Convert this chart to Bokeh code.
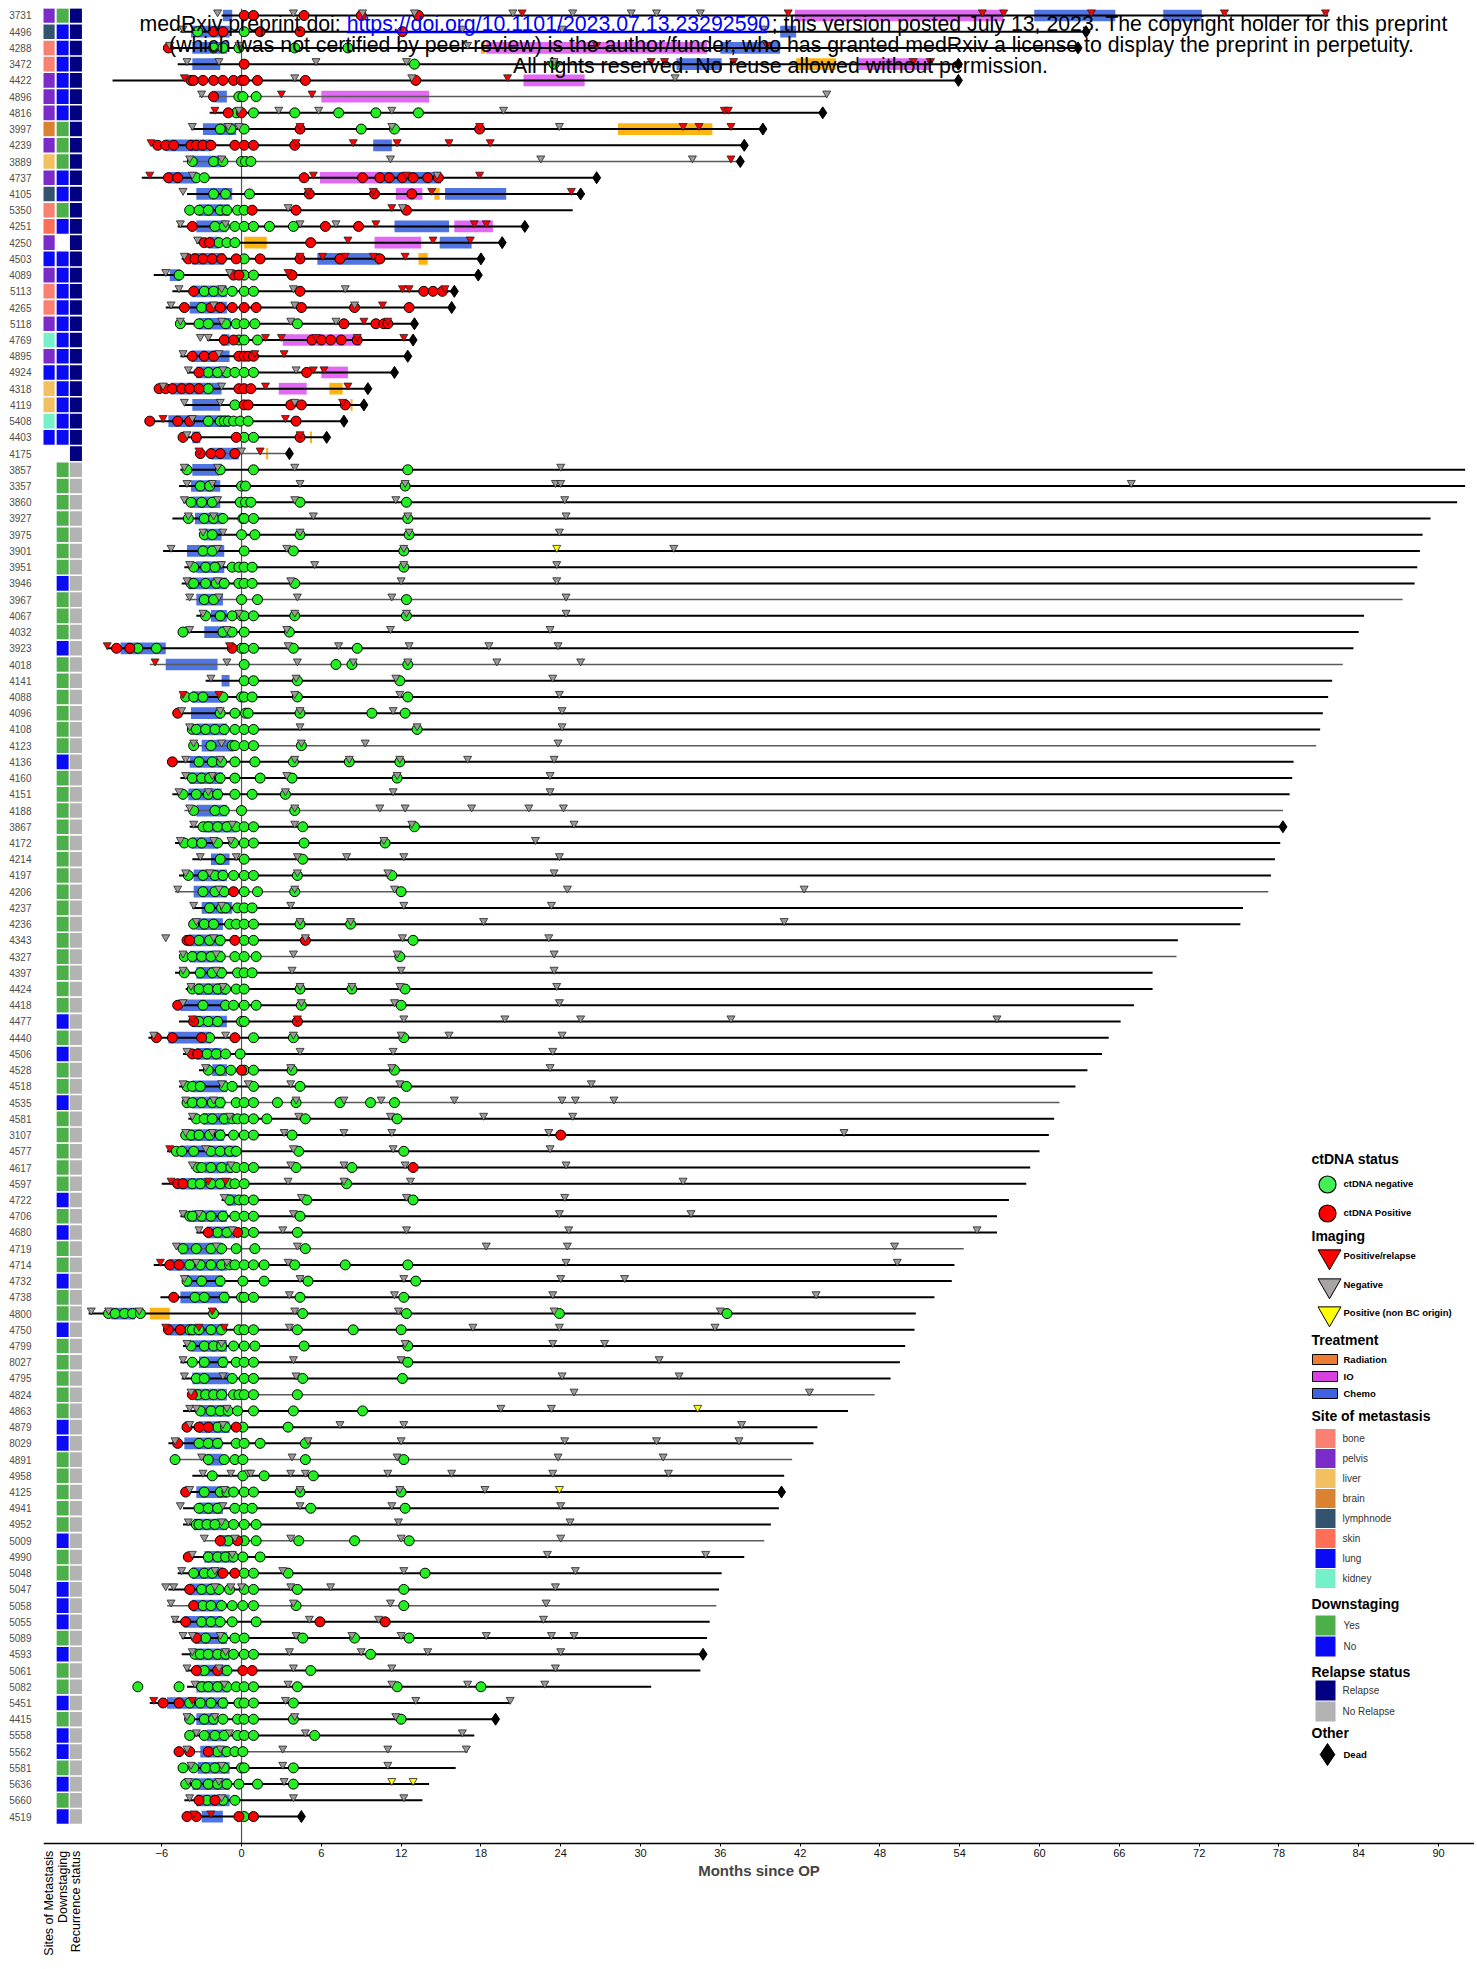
from math import pi
from bokeh.plotting import figure
from bokeh.models import Range1d, FixedTicker
from bokeh.embed import file_html
from bokeh.resources import INLINE
from bokeh.core.properties import value

# ---------------------------------------------------------------- data
PATIENTS = ["3731", "4496", "4288", "3472", "4422", "4896", "4816", "3997", "4239", "3889",
            "4737", "4105", "5350", "4251", "4250", "4503", "4089", "5113", "4265", "5118",
            "4769", "4895", "4924", "4318", "4119", "5408", "4403", "4175",
            "3857", "3357", "3860", "3927", "3975", "3901", "3951", "3946", "3967", "4067",
            "4032", "3923", "4018", "4141", "4088", "4096", "4108", "4123", "4136", "4160",
            "4151", "4188", "3867", "4172", "4214", "4197", "4206", "4237", "4236", "4343",
            "4327", "4397", "4424", "4418", "4477", "4440", "4506", "4528", "4518", "4535",
            "4581", "3107", "4577", "4617", "4597", "4722", "4706", "4680", "4719", "4714",
            "4732", "4738", "4800", "4750", "4799", "8027", "4795", "4824", "4863", "4879",
            "8029", "4891", "4958", "4125", "4941", "4952", "5009", "4990", "5048", "5047",
            "5058", "5055", "5089", "4593", "5061", "5082", "5451", "4415", "5558", "5562",
            "5581", "5636", "5660", "4519"]

SITE = ["pelvis", "lymphnode", "bone", "bone", "pelvis", "pelvis", "pelvis", "brain", "pelvis", "liver",
        "pelvis", "lymphnode", "bone", "skin", "pelvis", "lung", "pelvis", "bone", "bone", "pelvis",
        "kidney", "pelvis", "lung", "liver", "liver", "kidney", "lung", ""] + [""] * 84

DOWNSTAGING = ["Yes", "No", "No", "No", "No", "No", "No", "Yes", "Yes", "Yes",
               "No", "No", "Yes", "No", "", "No", "No", "No", "No", "No",
               "No", "No", "No", "No", "No", "No", "No", "",
               "Yes", "Yes", "Yes", "Yes", "Yes", "Yes", "Yes", "No", "Yes", "Yes",
               "Yes", "No", "Yes", "Yes", "Yes", "Yes", "Yes", "Yes", "No", "Yes",
               "Yes", "Yes", "Yes", "Yes", "Yes", "Yes", "Yes", "Yes", "Yes", "Yes",
               "Yes", "Yes", "Yes", "Yes", "No", "Yes", "No", "Yes", "Yes", "No",
               "Yes", "Yes", "Yes", "Yes", "Yes", "No", "Yes", "No", "Yes", "Yes",
               "No", "Yes", "Yes", "No", "Yes", "Yes", "Yes", "Yes", "Yes", "No",
               "No", "Yes", "Yes", "Yes", "Yes", "Yes", "No", "Yes", "Yes", "No",
               "No", "No", "Yes", "No", "Yes", "Yes", "No", "Yes", "No", "No",
               "Yes", "No", "Yes", "No"]

RELAPSE = ["Relapse"] * 28 + ["No Relapse"] * 84

START = [-1.5, -4.6, -5.5, -4.8, -9.7, -3.2, -2.4, -3.8, -6.7, -4.4,
         -7.5, -4.1, -4.1, -4.8, -3.4, -4.5, -6.6, -5.2, -5.7, -4.7,
         -2.6, -4.6, -4.1, -6.3, -4.3, -6.9, -4.4, -3.2,
         -4.6, -4.7, -4.4, -5.2, -3.1, -5.9, -4.3, -4.5, -4.2, -3.4,
         -4.4, -10.1, -6.9, -2.7, -4.4, -4.8, -4.1, -3.9, -5.2, -4.6,
         -5.2, -4.3, -3.9, -5.0, -3.7, -4.7, -5.0, -3.7, -3.8, -4.4,
         -4.6, -5.0, -4.2, -4.9, -4.7, -7.0, -4.4, -3.2, -4.7, -4.4,
         -4.0, -4.4, -5.6, -3.8, -6.0, -1.5, -4.6, -3.4, -4.9, -6.6,
         -4.4, -6.1, -11.5, -5.8, -4.4, -4.6, -4.5, -4.0, -4.4, -4.4,
         -5.5, -5.0, -3.7, -4.4, -4.4, -4.4, -2.8, -4.0, -4.8, -5.5,
         -5.6, -5.2, -4.5, -4.5, -4.2, -4.1, -6.9, -4.3, -4.1, -4.9,
         -4.6, -4.4, -4.3, -4.1]

END = [81.7, 63.5, 62.9, 53.9, 53.9, 44.0, 43.7, 39.2, 37.8, 37.5,
       26.7, 25.5, 24.9, 21.3, 19.6, 18.0, 17.8, 16.0, 15.8, 13.0,
       12.9, 12.5, 11.5, 9.5, 9.2, 7.7, 6.4, 3.6,
       92.0, 92.0, 91.4, 89.4, 88.8, 88.6, 88.4, 88.2, 87.3, 84.4,
       84.0, 83.6, 82.8, 82.0, 81.7, 81.3, 81.1, 80.8, 79.1, 79.0,
       78.8, 78.3, 78.3, 78.1, 77.7, 77.4, 77.2, 75.3, 75.1, 70.4,
       70.3, 68.5, 68.5, 67.1, 66.1, 65.2, 64.7, 63.6, 62.7, 61.5,
       61.1, 60.7, 60.0, 59.3, 59.0, 57.7, 56.8, 56.8, 54.3, 53.6,
       53.4, 52.1, 50.7, 50.6, 49.9, 49.5, 48.8, 47.6, 45.6, 43.3,
       43.0, 41.4, 40.8, 40.6, 40.4, 39.8, 39.3, 37.8, 36.1, 35.9,
       35.7, 35.2, 35.0, 34.7, 34.5, 30.8, 20.2, 19.1, 17.5, 17.0,
       16.1, 14.1, 13.6, 4.5]

DEAD = ["4496", "4288", "3472", "4422", "4816", "3997", "4239", "3889", "4737",
        "4105", "4251", "4250", "4503", "4089", "5113", "4265", "5118", "4769", "4895",
        "4924", "4318", "4119", "5408", "4403", "4175", "3867", "4125", "4593", "4415", "4519"]

GREY_LINE = ["4896", "3889", "4175", "3967", "4018", "4123", "4188", "4206", "4327", "4535",
             "4719", "4824", "4891", "5009", "5058", "5562"]

CHEMO = {
    "3731": [(-1.4, -0.7), (59.6, 65.7), (69.3, 72.2)], "4496": [(-3.8, -0.9), (40.5, 41.7)],
    "4288": [(-3.7, -1.1), (36.0, 40.5)], "3472": [(-3.7, -1.6), (32.7, 36.1)],
    "4896": [(-2.1, -1.1)], "3997": [(-2.9, -0.4)], "4239": [(-5.7, -2.3), (9.9, 11.3)],
    "3889": [(-3.7, -1.5)], "4737": [(-5.5, -3.4), (10.4, 15.0)], "4105": [(-3.4, -0.7), (15.3, 19.9)],
    "5350": [(-3.2, -0.9)], "4251": [(-3.4, -1.1), (11.5, 15.6)], "4250": [(-2.5, -1.7), (14.9, 17.3)],
    "4503": [(-3.7, -1.3), (5.7, 10.4)], "4089": [(-5.4, -4.6)], "5113": [(-3.7, -1.1)],
    "4265": [(-3.9, -1.1)], "5118": [(-3.2, -0.8)], "4769": [(-1.5, -0.9)], "4895": [(-3.7, -0.9)],
    "4924": [(-3.4, -1.1)], "4318": [(-5.3, -1.5)], "4119": [(-3.7, -1.6)], "5408": [(-5.5, -0.9)],
    "4403": [(-3.7, -3.1)], "4175": [(-2.3, -0.2)],
    "3857": [(-3.7, -1.7)], "3357": [(-3.8, -1.6)], "3860": [(-3.7, -1.6)], "3927": [(-3.5, -1.4)],
    "3975": [(-2.8, -1.5)], "3901": [(-4.1, -1.3)], "3951": [(-3.4, -1.3)], "3946": [(-4.0, -1.1)],
    "3967": [(-3.4, -1.4)], "4067": [(-2.3, -1.1)], "4032": [(-2.8, -0.8)], "3923": [(-9.1, -5.7)],
    "4018": [(-5.7, -1.8)], "4141": [(-1.5, -0.9)], "4088": [(-3.7, -1.4)], "4096": [(-3.8, -1.5)],
    "4108": [(-3.4, -1.1)], "4123": [(-3.0, -0.6)], "4136": [(-3.9, -1.3)], "4160": [(-3.9, -1.4)],
    "4151": [(-4.0, -1.5)], "4188": [(-3.4, -1.1)], "3867": [(-2.8, -0.4)], "4172": [(-3.7, -1.8)],
    "4214": [(-2.3, -0.9)], "4197": [(-3.6, -1.1)], "4206": [(-3.6, -1.1)], "4237": [(-3.0, -0.7)],
    "4236": [(-3.4, -1.4)], "4343": [(-4.0, -1.4)], "4327": [(-3.9, -1.4)], "4397": [(-3.4, -1.3)],
    "4424": [(-3.4, -1.1)], "4418": [(-4.6, -1.1)], "4477": [(-3.7, -1.1)], "4440": [(-5.5, -2.3)],
    "4506": [(-3.4, -1.5)], "4528": [(-2.2, -1.1)], "4518": [(-3.7, -1.1)], "4535": [(-3.7, -1.3)],
    "4581": [(-2.9, -0.9)], "3107": [(-4.0, -1.3)], "4577": [(-4.6, -0.4)], "4617": [(-2.8, -0.7)],
    "4597": [(-4.6, -1.1)], "4722": [(-1.1, -0.4)], "4706": [(-3.7, -1.1)], "4680": [(-2.6, -0.5)],
    "4719": [(-4.6, -1.4)], "4714": [(-5.4, -1.1)], "4732": [(-4.3, -1.4)], "4738": [(-4.6, -1.0)],
    "4800": [(-9.8, -8.0)], "4750": [(-5.4, -1.4)], "4799": [(-3.7, -1.1)], "8027": [(-3.2, -1.1)],
    "4795": [(-3.7, -0.9)], "4824": [(-3.5, -1.1)], "4863": [(-3.1, -0.9)], "4879": [(-3.2, -0.9)],
    "8029": [(-4.3, -1.5)], "4891": [(-2.6, -1.4)], "4125": [(-3.4, -1.1)], "4941": [(-3.2, -1.4)],
    "4952": [(-3.6, -1.1)], "5009": [(-1.7, -0.8)], "4990": [(-2.8, -0.5)], "5048": [(-3.7, -1.4)],
    "5047": [(-3.9, -1.6)], "5058": [(-3.7, -1.4)], "5055": [(-4.3, -1.5)], "5089": [(-3.5, -1.1)],
    "4593": [(-3.4, -0.9)], "5061": [(-3.4, -0.9)], "5082": [(-3.4, -0.9)], "5451": [(-5.6, -1.1)],
    "4415": [(-3.4, -1.8)], "5558": [(-2.6, -1.1)], "5562": [(-3.1, -1.1)], "5581": [(-3.3, -0.9)],
    "5636": [(-3.7, -0.9)], "5660": [(-3.4, -0.9)], "4519": [(-3.0, -1.4)],
}

IO = {
    "3731": [(41.6, 57.3)], "4288": [(18.4, 35.0)], "3472": [(46.4, 51.8)], "4422": [(21.2, 25.8)],
    "4896": [(6.0, 14.1)], "4737": [(5.9, 10.4)], "4105": [(11.6, 13.6)], "4251": [(16.0, 18.9)],
    "4250": [(10.0, 13.5)], "4769": [(3.1, 9.0)], "4924": [(6.0, 8.0)], "4318": [(2.8, 4.9)],
}

RADIATION = {
    "4288": [(18.0, 18.3)], "3472": [(41.7, 44.7)], "3997": [(28.3, 35.4)], "4105": [(14.5, 14.9)],
    "4250": [(0.2, 1.9)], "4503": [(13.3, 14.0)], "4318": [(6.6, 7.6)], "4119": [(8.2, 8.35)],
    "4403": [(5.15, 5.3)], "4175": [(1.85, 2.0)], "4800": [(-6.9, -5.4)],
}

CTDNA_POS = {
    "3731": [0.2, 0.9, 4.7, 9.0, 13.3], "4496": [-2.1, -1.4, 1.4, 4.4, 12.1], "4288": [-5.5],
    "3472": [0.2], "4422": [-3.8, -3.6, -2.9, -2.1, -1.4, -0.6, 0.0, 0.2, 1.2, 4.8, 13.1],
    "4896": [-2.1], "4816": [-1.0, 0.0], "3997": [4.4, 17.9],
    "4239": [-6.3, -5.7, -5.1, -3.8, -3.4, -2.9, -2.3, -0.5, 0.2, 0.9, 4.0],
    "4737": [-5.5, -4.8, 4.7, 9.1, 10.4, 11.1, 12.1, 12.9, 14.0, 14.8], "4105": [5.1, 10.0, 12.8],
    "5350": [0.8, 4.1, 12.4], "4251": [-3.7, 6.3, 8.8], "4250": [-2.8, -2.4, 5.2],
    "4503": [-4.0, -3.5, -2.9, -2.2, -1.5, -0.4, 1.4, 4.4, 7.4, 10.4], "4089": [-0.6, -0.2, 3.8],
    "5113": [-3.6, 4.4, 13.7, 14.4, 15.1], "4265": [-4.3, -2.3, -1.6, -0.7, 0.2, 1.1, 4.5, 8.5, 12.6],
    "5118": [7.7, 10.1, 10.7, 11.0], "4769": [-1.3, -0.6, 5.3, 6.0, 6.7, 7.5, 8.7],
    "4895": [-3.7, -2.8, -2.1, -0.2, 0.2, 0.5, 0.9], "4924": [-3.2, 4.9],
    "4318": [-6.2, -5.7, -5.2, -4.5, -3.9, -3.2, -0.2, 0.2, 0.7], "4119": [0.2, 0.5, 3.7, 4.5, 7.8],
    "5408": [-6.9, -4.8, -3.9, 4.1], "4403": [-4.4, -3.4, -0.4, 4.4], "4175": [-3.1, -2.3, -1.6, -0.5],
    "3923": [-9.4, -8.4, -0.7], "4096": [-4.8], "4136": [-5.2], "4206": [-0.6],
    "4343": [-4.1, -3.9, -0.5, 4.8], "4418": [-4.8], "4477": [-3.6, 4.2], "4440": [-6.4, -5.2, -3.0, -0.5],
    "4506": [-3.7, -3.3], "4528": [0.0], "3107": [24.0], "4617": [12.9], "4597": [-4.8, -4.4],
    "4680": [-2.5, -0.3], "4714": [-5.4, -4.7], "4738": [-5.1], "4750": [-5.5, -4.6], "4824": [-3.7],
    "4879": [-4.1, -3.2, -2.5, -0.4], "8029": [-4.8], "4125": [-4.2], "5009": [-1.6, -0.3],
    "4990": [-4.0], "5048": [-1.4, -0.5], "5047": [-3.9], "5058": [-3.6], "5055": [-4.2, 5.9, 10.8],
    "5089": [-3.4], "5061": [-3.4, -1.8, 0.1, 0.8], "5451": [-5.9, -4.7], "5562": [-4.7, -3.9, -2.5],
    "5660": [-3.2, -2.0], "4519": [-4.1, -3.4, -0.2, 0.9],
}

CTDNA_NEG = {
    "4496": [-3.3, 0.2], "4288": [-2.1, -1.4, -0.2, 4.0, 8.0], "3472": [13.0, 23.5],
    "4896": [-0.2, 0.1, 1.1], "4816": [-0.4, 0.9, 4.0, 7.3, 10.1, 13.3], "3997": [-1.6, -0.8, 0.2, 9.0, 11.5],
    "3889": [-3.7, -2.1, -1.4, 0.0, 0.3, 0.7], "4737": [-3.4, -2.8], "4105": [-2.1, -1.2, 0.6],
    "5350": [-3.9, -3.2, -2.5, -1.6, -1.1, -0.3, 0.2], "4251": [-2.0, -1.3, -0.5, 0.2, 0.9, 2.1, 3.9],
    "4250": [-1.7, -1.1, -0.5], "4503": [0.2], "4089": [-4.7, 0.2, 0.9],
    "5113": [-2.8, -2.1, -1.4, -0.7, 0.2, 0.9], "4265": [-3.0],
    "5118": [-4.6, -3.2, -2.5, -1.2, -0.4, 0.2, 1.0, 4.2], "4769": [-0.2, 0.2, 1.2],
    "4924": [-2.5, -1.8, -1.1, -0.5, 0.2, 0.9], "4318": [-2.5], "4119": [-0.5],
    "5408": [-2.5, -1.6, -1.3, -1.0, -0.6, -0.1, 0.5], "4403": [0.2, 0.9],
    "3857": [-4.1, -1.6, 0.9, 12.5], "3357": [-3.1, -2.4, 0.0, 0.3, 12.3],
    "3860": [-3.8, -3.0, -2.2, -0.1, 0.3, 0.7, 4.4, 12.4], "3927": [-4.0, -2.8, -2.1, -1.4, 0.1, 0.2, 0.9, 12.5],
    "3975": [-2.8, -2.2, 0.0, 1.0, 4.4, 12.6], "3901": [-2.9, -2.2, 0.2, 3.9, 12.2],
    "3951": [-3.6, -2.7, -2.0, -0.7, -0.2, 0.2, 0.8, 12.2],
    "3946": [-3.8, -3.6, -2.7, -1.9, -1.3, -0.2, 0.2, 0.8, 4.0], "3967": [-2.8, -2.1, 0.0, 1.2, 12.4],
    "4067": [-2.7, -1.6, -0.7, 0.0, 0.2, 0.9, 4.0, 12.4], "4032": [-4.4, -1.4, -0.7, 0.2, 3.6],
    "3923": [-7.8, -6.4, 0.0, 0.2, 0.9, 3.9, 8.7], "4018": [0.2, 7.1, 8.3, 12.5], "4141": [0.2, 0.9, 4.2, 11.9],
    "4088": [-4.2, -3.6, -2.9, -1.4, 0.0, 0.2, 0.8, 4.2, 12.5], "4096": [-1.6, -0.5, 0.3, 0.5, 4.4, 9.8, 12.3],
    "4108": [-3.7, -3.4, -2.7, -2.0, -1.3, -0.5, 0.2, 0.9, 13.2], "4123": [-3.6, -2.3, -0.7, -0.5, 0.2, 0.9, 4.5],
    "4136": [-3.2, -2.2, -1.5, -0.5, 1.0, 3.9, 8.1, 11.9], "4160": [-3.7, -3.0, -2.4, -1.6, -0.5, 1.4, 3.8, 11.7],
    "4151": [-4.4, -3.4, -2.5, -1.8, -0.5, 0.8, 3.3], "4188": [-3.6, -2.0, -1.3, 0.0, 4.0],
    "3867": [-2.9, -2.5, -1.8, -1.1, -0.4, 0.2, 0.9, 4.6, 13.0],
    "4172": [-4.3, -3.7, -3.0, -1.8, -0.6, 0.2, 0.9, 4.7, 10.8], "4214": [-1.6, 0.2, 4.6],
    "4197": [-4.0, -2.9, -2.0, -1.4, -0.6, 0.2, 0.9, 4.2, 11.3], "4206": [-2.9, -2.0, -1.3, 0.2, 1.2, 4.0, 12.0],
    "4237": [-2.4, -1.5, -1.2, -0.3, 0.2, 0.8], "4236": [-3.6, -2.8, -2.1, -0.9, -0.4, 0.2, 0.9, 4.4, 8.2],
    "4343": [-3.2, -2.4, -1.6, 0.2, 0.9, 12.9], "4327": [-4.3, -3.7, -3.0, -2.3, -1.6, -0.5, 0.2, 1.1, 11.9],
    "4397": [-4.3, -3.1, -2.2, -1.5, -0.3, 0.2, 0.8],
    "4424": [-3.7, -3.2, -2.5, -1.8, -1.2, -0.4, 0.2, 4.4, 8.3, 12.3],
    "4418": [-2.9, -1.2, -0.6, 0.2, 1.1, 4.5, 12.0], "4477": [-3.2, -2.5, -1.8, 0.0, 0.2],
    "4440": [-2.4, 0.9, 3.9, 12.2], "4506": [-2.6, -1.9, -1.2, -0.1], "4528": [-2.5, -1.6, -0.8, 0.2, 0.9, 3.8, 11.5],
    "4518": [-4.1, -3.7, -3.1, -1.3, -0.7, 0.9, 4.4, 12.4],
    "4535": [-4.1, -3.7, -3.0, -2.2, -1.6, -0.4, 0.2, 0.9, 2.7, 4.1, 7.4, 9.7, 11.5],
    "4581": [-3.4, -2.8, -2.2, -1.3, -0.7, -0.3, 0.2, 0.9, 1.9, 4.8, 11.7],
    "3107": [-4.2, -3.8, -3.2, -2.4, -1.6, -0.6, 0.2, 0.9, 3.8],
    "4577": [-4.9, -4.5, -3.6, -2.3, -1.6, -0.9, -0.4, 4.3, 12.2],
    "4617": [-3.3, -3.0, -2.3, -1.5, -0.8, -0.4, 0.2, 0.9, 4.1, 8.3],
    "4597": [-3.7, -3.1, -2.3, -1.6, -0.9, -0.5, 0.2, 7.9], "4722": [-0.9, -0.2, 0.2, 0.9, 4.9, 12.9],
    "4706": [-3.9, -3.7, -3.0, -2.3, -1.4, -0.5, 0.2, 0.9, 4.4], "4680": [-1.8, -1.1, 0.2, 0.9, 4.2],
    "4719": [-4.4, -3.4, -2.3, -1.5, -0.4, 1.0, 4.8],
    "4714": [-3.9, -3.1, -2.3, -1.5, -0.9, -0.5, 0.2, 0.9, 1.7, 4.0, 7.8, 12.5],
    "4732": [-4.1, -3.0, -1.6, 0.1, 1.7, 5.0, 13.1], "4738": [-3.5, -2.8, -1.3, 0.0, 0.2, 0.9, 4.4, 12.2],
    "4800": [-10.0, -9.5, -8.8, -8.2, -7.6, -2.1, 4.6, 12.4, 23.9, 36.5],
    "4750": [-3.9, -3.7, -3.2, -2.3, -1.5, -0.2, 0.2, 0.9, 4.2, 8.4, 12.0],
    "4799": [-3.8, -2.8, -2.1, -1.5, -0.6, 0.2, 1.0, 4.7, 12.5], "8027": [-3.7, -2.8, -1.4, -0.4, 0.2, 0.9, 12.5],
    "4795": [-3.4, -2.8, -0.7, 0.2, 0.9, 4.6, 12.1], "4824": [-3.3, -2.7, -2.1, -1.5, -0.6, -0.2, 0.2, 0.9, 4.2],
    "4863": [-3.1, -2.3, -1.6, -1.0, -0.3, 0.9, 3.9, 9.1], "4879": [-1.8, -1.2, 0.1, 3.5],
    "8029": [-3.2, -2.5, -1.8, -0.4, 0.2, 1.4, 4.8], "4891": [-5.0, -2.5, -1.3, -0.5, 0.1, 4.8, 12.2],
    "4958": [-2.2, 0.1, 1.7, 5.4], "4125": [-2.8, -1.6, -1.1, -0.6, 0.2, 0.9, 4.4, 12.0],
    "4941": [-3.2, -2.5, -1.8, -0.5, 0.2, 0.8, 5.2, 12.3], "4952": [-3.4, -3.2, -2.6, -2.0, -1.3, -0.6, 0.2, 1.1],
    "5009": [-1.0, 0.2, 1.1, 4.3, 8.5, 12.6], "4990": [-2.5, -1.8, -1.2, -0.6, 0.1, 1.4],
    "5048": [-3.6, -2.8, -2.2, 0.2, 0.9, 3.5, 13.8], "5047": [-3.0, -2.3, -1.7, -0.9, 0.2, 0.9, 4.2, 12.2],
    "5058": [-2.9, -2.3, -1.5, -0.7, 0.1, 0.9, 4.1, 12.2], "5055": [-3.0, -2.3, -1.6, -0.7, 1.1],
    "5089": [-2.7, -1.4, -0.5, 0.2, 4.6, 8.5, 12.6], "4593": [-3.5, -3.1, -2.5, -1.8, -1.2, -0.6, 0.2, 0.9, 9.7],
    "5061": [-2.8, -1.1, 5.2], "5082": [-7.8, -4.7, -3.0, -2.5, -1.8, -1.1, -0.4, 0.2, 0.9, 4.2, 11.7, 18.0],
    "5451": [-3.9, -3.1, -2.3, -1.4, -0.2, 0.2, 0.9, 3.9], "4415": [-3.9, -2.8, -2.1, -1.4, -0.3, 0.2, 0.9, 3.9, 12.0],
    "5558": [-3.9, -2.8, -2.0, -1.3, -0.3, 0.2, 0.9, 5.5], "5562": [-1.8, -1.1, -0.5, 0.1],
    "5581": [-4.4, -3.6, -2.7, -2.0, -1.3, 0.0, 0.2, 3.9], "5636": [-4.2, -3.4, -2.5, -1.8, -1.1, -0.2, 1.2, 3.9],
    "5660": [-2.6, -1.4, -0.5], "4519": [0.2],
}

IMAGING_NEG = {
    "3731": [-1.8, 3.9, 9.1, 13.0, 20.4, 24.9, 29.3, 31.2, 34.5], "4496": [-4.4, 16.6, 24.1, 39.2],
    "4288": [-5.4, -0.2, 17.0], "3472": [-4.1, -1.7, 5.6, 12.4, 23.5], "4422": [4.0, 12.8, 32.6],
    "4896": [-3.0, 44.0], "4816": [-0.2, 2.8, 5.8, 11.3, 19.7], "3997": [-3.7, -1.0, -0.2, 11.3, 23.9],
    "3889": [-3.9, -1.5, 11.2, 22.5, 33.9], "4737": [-3.7, 14.7], "4105": [-4.4], "5350": [3.5, 12.1],
    "4251": [-4.6, -1.2, 4.4, 7.1], "4250": [-3.3], "4503": [-4.3], "4089": [-5.7, -0.9],
    "5113": [-4.7, -1.5, 3.9, 7.8], "4265": [-5.3, -2.1, 4.0, 8.5], "5118": [-4.6, -1.5, 3.7, 7.1],
    "4769": [-3.1, -2.5], "4895": [-4.4, -1.7], "4924": [-4.0, -1.4, 4.1], "4318": [-5.9, -1.5],
    "4119": [-4.3, -1.6, 4.0], "5408": [-3.7], "4403": [-4.1], "4175": [0.0],
    "3857": [-4.3, -1.8, 4.0, 24.0], "3357": [-4.1, -2.2, 4.4, 12.3, 23.6, 24.0, 66.9],
    "3860": [-4.3, -1.8, 4.0, 11.6, 24.3], "3927": [-4.0, -2.1, 5.4, 12.5, 24.4],
    "3975": [-2.9, -1.4, 4.4, 12.6, 23.9], "3901": [-5.3, -1.8, 3.4, 12.2, 32.5],
    "3951": [-3.9, -1.5, 5.5, 12.2, 23.7], "3946": [-4.1, -1.8, 3.7, 12.0, 23.7],
    "3967": [-3.9, -1.7, 4.2, 11.3, 24.4], "4067": [-2.9, -0.2, 4.0, 12.4, 24.4],
    "4032": [-3.9, -1.1, 3.4, 11.2, 23.2], "3923": [3.5, 7.3, 12.6, 18.6, 23.8],
    "4018": [-1.1, 4.2, 8.4, 12.5, 19.2, 25.5], "4141": [-2.3, 4.1, 11.6, 23.4], "4088": [4.0, 11.9, 23.9],
    "4096": [-4.5, -1.6, 4.4, 11.4, 24.1], "4108": [-3.9, 4.4, 13.2, 24.1], "4123": [-3.6, -1.5, 4.5, 9.3, 23.8],
    "4136": [-4.2, -1.6, 4.0, 8.1, 11.9, 17.0, 23.5], "4160": [-4.2, -2.2, 3.4, 11.7, 23.2],
    "4151": [-4.7, -2.5, 3.3, 11.4, 23.2], "4188": [-3.9, 4.0, 10.4, 12.3, 17.3, 21.6, 24.2],
    "3867": [-3.6, -0.7, 4.0, 12.8, 25.0], "4172": [-4.6, -2.1, -0.8, 10.7, 22.1],
    "4214": [-3.1, -0.4, 4.2, 7.9, 12.2, 23.9], "4197": [-4.2, -2.4, 4.2, 11.0, 23.5],
    "4206": [-4.8, -1.7, 4.0, 11.5, 24.5, 42.3], "4237": [-3.6, -1.5, 3.7, 12.2, 23.3],
    "4236": [-3.4, 4.4, 8.2, 18.2, 40.8], "4343": [-5.7, -2.1, 4.8, 12.1, 23.1],
    "4327": [-4.4, -1.9, 3.9, 11.7, 23.5], "4397": [-4.4, -1.9, 3.8, 12.0, 23.5],
    "4424": [-3.8, -1.4, 4.4, 8.3, 11.9, 23.7], "4418": [-4.4, 4.5, 11.5, 23.9],
    "4477": [12.2, 19.8, 25.5, 36.8, 56.8], "4440": [-6.6, -1.2, 3.9, 12.0, 15.6, 24.1],
    "4506": [-4.1, 4.4, 11.4, 23.4], "4528": [-2.7, 3.7, 11.3, 23.2], "4518": [-4.4, -1.5, 0.5, 3.7, 11.9, 26.3],
    "4535": [-4.2, -2.1, 4.1, 7.7, 10.5, 16.0, 24.1, 25.1, 28.0], "4581": [-3.7, -0.9, 4.3, 11.2, 18.2, 24.9],
    "3107": [-4.2, -2.2, 3.2, 7.7, 11.3, 23.1, 45.3], "4577": [-2.7, 3.9, 11.4, 23.2],
    "4617": [-3.7, -0.8, 3.7, 7.7, 12.3, 24.4], "4597": [3.5, 7.7, 12.7, 33.2], "4722": [-1.3, 4.5, 12.4, 24.3],
    "4706": [-4.4, -3.2, 3.9, 23.9, 33.8], "4680": [-3.2, -0.7, 3.1, 12.4, 24.6, 55.3],
    "4719": [-4.9, -1.9, 4.2, 18.4, 24.5, 49.1], "4714": [-3.4, -1.1, 3.5, 24.4, 49.3],
    "4732": [-4.3, 4.4, 12.2, 24.0, 28.8], "4738": [3.6, 11.5, 23.4, 43.2],
    "4800": [-11.3, -10.0, -7.7, 4.0, 11.8, 23.5, 36.0], "4750": [3.6, 17.4, 23.9, 35.6],
    "4799": [-4.1, -1.5, 12.3, 23.4, 27.3], "8027": [-4.4, 3.9, 12.0, 31.4], "4795": [-4.3, -1.4, 4.1, 24.1, 32.9],
    "4824": [-3.8, 25.0, 42.7], "4863": [-3.9, -3.4, -1.1, 19.5, 23.3], "4879": [-3.9, -1.4, 7.4, 12.2, 37.6],
    "8029": [-5.0, 5.0, 12.0, 24.3, 31.2, 37.4], "4891": [-3.0, 3.8, 11.7, 23.8, 31.7],
    "4958": [-2.9, -0.8, 0.5, 0.7, 3.7, 4.8, 11.0, 15.8, 23.4, 32.1], "4125": [-3.9, -1.3, 4.4, 11.9, 18.3],
    "4941": [-4.6, -1.4, 4.4, 11.3, 24.0], "4952": [-4.0, -1.5, 11.8, 24.7], "5009": [-2.8, -0.5, 3.7, 12.0, 24.0],
    "4990": [-3.7, -0.7, 23.0, 34.9], "5048": [-4.5, -2.0, 3.1, 12.2, 25.1],
    "5047": [-5.7, -5.1, -2.0, -0.8, 0.0, 3.7, 6.7, 23.6], "5058": [-5.3, 3.9, 11.2, 22.9],
    "5055": [-5.0, 5.1, 10.3, 22.7], "5089": [-4.4, -3.7, -1.6, 4.1, 8.3, 12.0, 18.4, 23.3, 25.0],
    "4593": [-3.7, -1.2, 3.6, 9.0, 14.0, 24.0], "5061": [-4.1, -1.7, 3.9, 11.3, 23.6],
    "5082": [-3.5, -1.3, 3.5, 11.3, 17.0, 22.8], "5451": [3.3, 13.1, 20.2], "4415": [-4.1, -2.0, 4.0, 11.6],
    "5558": [-3.4, -0.9, 4.8, 16.6], "5562": [-4.1, -1.6, 3.1, 11.0, 16.9], "5581": [-3.8, -1.5, 3.1, 11.0],
    "5636": [-4.0, -1.7, 3.2], "5660": [-3.9, -1.5, 3.9, 12.2],
}

IMAGING_POS = {
    "3731": [21.1, 41.1, 55.7, 57.3, 63.9, 73.9, 81.5], "4288": [26.7, 39.5],
    "3472": [30.8, 31.8, 37.0, 50.5, 51.8], "4422": [-4.3, 20.0], "4896": [3.0, 5.3],
    "4816": [-2.0, 36.3, 36.6], "3997": [4.4, 17.9, 33.2, 34.4, 36.8], "4239": [-6.8, 4.1, 8.4, 11.7, 15.6, 18.7],
    "3889": [36.8], "4737": [-6.9, 5.4, 12.4, 17.9], "4105": [5.0, 9.9, 14.3, 24.8], "5350": [11.3],
    "4251": [10.1, 17.5, 18.4], "4250": [8.0, 14.4, 17.2], "4503": [4.4, 6.1, 7.8, 9.9, 12.3], "4089": [3.5],
    "5113": [12.1, 12.6, 15.3], "4265": [10.6], "5118": [9.2, 11.0], "4769": [1.8, 3.0, 5.6, 8.7, 12.2],
    "4895": [1.0, 3.2], "4924": [5.4, 6.2], "4318": [1.8, 8.0], "4119": [7.6], "5408": [-5.9, 3.3],
    "4403": [4.4], "4175": [-3.2, 1.4], "3923": [-10.1, -0.9], "4018": [-6.5], "4088": [-4.4, -1.7],
    "4477": [-3.7, 4.2], "4577": [-5.4], "4597": [-5.3, -2.5, -1.2], "4714": [-6.1], "4800": [-2.2],
    "4750": [-5.7, -3.2, -1.3], "5451": [-6.6, -3.7], "4519": [-3.6, -2.3],
}

IMAGING_OTHER = {"3901": [23.7], "4863": [34.3], "4125": [23.9], "5636": [11.3, 12.9]}

MONTH_TICKS = [-6, 0, 6, 12, 18, 24, 30, 36, 42, 48, 54, 60, 66, 72, 78, 84, 90]
COLUMN_LABELS = ["Sites of Metastasis", "Downstaging", "Recurrence status"]
COLUMN_X = [-14.5, -13.45, -12.45]

SITE_COLORS = {"bone": "#FA8072", "pelvis": "#7B2CC8", "liver": "#F2C060", "brain": "#D98232",
               "lymphnode": "#34536F", "skin": "#FF6F57", "lung": "#0A0AF5", "kidney": "#76F0C9"}
DOWN_COLORS = {"Yes": "#4DAF4A", "No": "#0A0AF5"}
RELAPSE_COLORS = {"Relapse": "#000080", "No Relapse": "#B3B3B3"}
SITE_ORDER = ["bone", "pelvis", "liver", "brain", "lymphnode", "skin", "lung", "kidney"]

# ---------------------------------------------------------------- layout
N = len(PATIENTS)
ROWS = list(range(1, N + 1))
ROW_PX = 16.226
TOP = 0.57
AXIS_Y = N + 1.66                 # where the month axis sits (data units)
FW, FH = 1431, 1953
FONT = value("Liberation Sans")

p = figure(frame_width=FW, frame_height=FH,
           x_range=Range1d(-14.89, -14.89 + FW / 13.3), y_range=Range1d(TOP + FH / ROW_PX, TOP),
           output_backend="svg", toolbar_location=None,
           min_border_left=43, min_border_right=0, min_border_top=8, min_border_bottom=0)
p.outline_line_color = None
p.xgrid.visible = False
p.ygrid.visible = False
p.background_fill_color = "white"
p.border_fill_color = "white"
p.extra_x_ranges = {"px": Range1d(0, FW)}
p.extra_y_ranges = {"py": Range1d(FH, 0)}

# month axis, pinned at the bottom of the swimmer rows
p.xaxis.fixed_location = AXIS_Y
p.xaxis.ticker = FixedTicker(ticks=MONTH_TICKS)
p.xaxis.axis_label = "Months since OP"
p.xaxis.axis_label_text_font = "Liberation Sans"
p.xaxis.axis_label_text_font_style = "bold"
p.xaxis.axis_label_text_font_size = "15px"
p.xaxis.axis_label_standoff = 1
p.xaxis.major_label_text_font = "Liberation Sans"
p.xaxis.major_label_text_font_size = "11px"
p.xaxis.major_label_text_color = "#111111"
p.xaxis.major_label_standoff = 3
p.xaxis.axis_line_width = 1.5
p.xaxis.major_tick_out = 3
p.xaxis.major_tick_in = 0
p.xaxis.minor_tick_line_color = None

p.yaxis.ticker = FixedTicker(ticks=ROWS)
p.yaxis.major_label_overrides = {r: pid for r, pid in zip(ROWS, PATIENTS)}
p.yaxis.axis_line_color = None
p.yaxis.major_tick_line_color = None
p.yaxis.minor_tick_line_color = None
p.yaxis.major_label_text_font = "Liberation Sans"
p.yaxis.major_label_text_font_size = "10px"
p.yaxis.major_label_text_color = "#4D4D4D"
p.yaxis.major_label_standoff = 6

# month-0 reference line
p.segment(x0=[0], y0=[TOP], x1=[0], y1=[AXIS_Y], line_color="#555555", line_width=1.2)

# ---------------------------------------------------------------- tiles
tx, ty, tc = [], [], []
for r, s, d, rel in zip(ROWS, SITE, DOWNSTAGING, RELAPSE):
    if s:
        tx.append(COLUMN_X[0]); ty.append(r); tc.append(SITE_COLORS[s])
    if d:
        tx.append(COLUMN_X[1]); ty.append(r); tc.append(DOWN_COLORS[d])
    tx.append(COLUMN_X[2]); ty.append(r); tc.append(RELAPSE_COLORS[rel])
p.rect(x=tx, y=ty, width=0.9, height=0.9, fill_color=tc, line_color=None)

# ---------------------------------------------------------------- treatments
def spans(dct, color, alpha):
    l, r, t, b = [], [], [], []
    for row, pid in zip(ROWS, PATIENTS):
        for a, e in dct.get(pid, []):
            l.append(a); r.append(e); t.append(row - 0.36); b.append(row + 0.36)
    p.quad(left=l, right=r, top=t, bottom=b, fill_color=color, fill_alpha=alpha, line_color=None)

spans(CHEMO, "#4169E1", 0.92)
spans(IO, "#DE5CF2", 0.92)
spans(RADIATION, "#FDB515", 1.0)

# ---------------------------------------------------------------- follow-up lines
lc = ["#5A5A5A" if pid in GREY_LINE else "#000000" for pid in PATIENTS]
lw = [1.5 if pid in GREY_LINE else 2.0 for pid in PATIENTS]
p.segment(x0=START, y0=ROWS, x1=END, y1=ROWS, line_color=lc, line_width=lw)

dx = [e for pid, e in zip(PATIENTS, END) if pid in DEAD]
dy = [r for pid, r in zip(PATIENTS, ROWS) if pid in DEAD]
p.scatter(x=dx, y=dy, marker="diamond", size=12, fill_color="black", line_color="black")

# ---------------------------------------------------------------- ctDNA
def points(dct, dy_off=0.0):
    xs, ys = [], []
    for row, pid in zip(ROWS, PATIENTS):
        for v in dct.get(pid, []):
            xs.append(v); ys.append(row + dy_off)
    return xs, ys

x, y = points(CTDNA_NEG)
p.scatter(x=x, y=y, marker="circle", size=10, fill_color="#22EE22", line_color="black", line_width=1)
x, y = points(CTDNA_POS)
p.scatter(x=x, y=y, marker="circle", size=10, fill_color="#FF0000", line_color="black", line_width=1)

# ---------------------------------------------------------------- imaging
for dct, col in ((IMAGING_NEG, "#9E9A9A"), (IMAGING_POS, "#FF0000"), (IMAGING_OTHER, "#FFFF00")):
    x, y = points(dct, -0.2)
    p.scatter(x=x, y=y, marker="inverted_triangle", size=8, fill_color=col, line_color="#222222", line_width=0.8)

# ---------------------------------------------------------------- column labels below axis
p.text(x=COLUMN_X, y=[AXIS_Y + 0.45] * 3, text=COLUMN_LABELS, angle=pi / 2,
       text_align="right", text_baseline="middle", text_font=FONT, text_font_size="12.5px",
       text_color="black")

# ---------------------------------------------------------------- legend (pixel space inside frame)
L = dict(x_range_name="px", y_range_name="py")
TX = 1300
def title(txt, yy):
    p.text(x=[1268], y=[yy], text=[txt], text_font=FONT, text_font_style="bold", text_font_size="14px",
           text_baseline="middle", text_color="black", **L)
def item(txt, yy, bold=True, xx=TX):
    p.text(x=[xx], y=[yy], text=[txt], text_font=FONT, text_font_style="bold" if bold else "normal",
           text_font_size="9.5px" if bold else "10px", text_baseline="middle",
           text_color="black" if bold else "#333333", **L)

title("ctDNA status", 1150)
p.scatter(x=[1284, 1284], y=[1176, 1205], marker="circle", size=17, fill_color=["#44EE55", "#FF0000"],
          line_color="black", line_width=1.2, **L)
item("ctDNA negative", 1175); item("ctDNA Positive", 1204)

title("Imaging", 1227)
p.scatter(x=[1286, 1286, 1286], y=[1248, 1277, 1305], marker="inverted_triangle", size=23,
          fill_color=["#FF0000", "#A8A4A4", "#FFFF00"], line_color="black", line_width=1, **L)
item("Positive/relapse", 1247); item("Negative", 1276); item("Positive (non BC origin)", 1304)

title("Treatment", 1331)
p.rect(x=[1281.5] * 3, y=[1351, 1368, 1385], width=25, height=10,
       fill_color=["#ED7D31", "#D63FE0", "#3F62E0"], line_color="black", line_width=1, **L)
item("Radiation", 1351); item("IO", 1368); item("Chemo", 1385)

title("Site of metastasis", 1407)
sy = [1430 + 20 * k for k in range(len(SITE_ORDER))]
p.rect(x=[1282] * len(SITE_ORDER), y=sy, width=20, height=19,
       fill_color=[SITE_COLORS[s] for s in SITE_ORDER], line_color=None, **L)
for s, yy in zip(SITE_ORDER, sy):
    item(s, yy, bold=False, xx=1299)

title("Downstaging", 1595)
p.rect(x=[1282, 1282], y=[1617, 1638], width=20, height=20,
       fill_color=[DOWN_COLORS["Yes"], DOWN_COLORS["No"]], line_color=None, **L)
item("Yes", 1617, bold=False, xx=1300); item("No", 1638, bold=False, xx=1300)

title("Relapse status", 1663)
p.rect(x=[1282, 1282], y=[1682, 1703], width=20, height=20,
       fill_color=[RELAPSE_COLORS["Relapse"], RELAPSE_COLORS["No Relapse"]], line_color=None, **L)
item("Relapse", 1682, bold=False, xx=1299); item("No Relapse", 1703, bold=False, xx=1299)

title("Other", 1724)
p.scatter(x=[1284], y=[1746], marker="diamond", size=22, fill_color="black", line_color="black", **L)
item("Dead", 1746)

# ---------------------------------------------------------------- preprint watermark
F = 21.3
WM = dict(text_font=FONT, text_font_size=f"{F}px", text_baseline="middle", **L)
x1 = 139 - 43
x2 = x1 + 9.725 * F
x3 = x2 + 19.959 * F
p.text(x=[x1], y=[15], text=["medRxiv preprint doi: "], text_color="black", **WM)
p.text(x=[x2], y=[15], text=["https://doi.org/10.1101/2023.07.13.23292590"], text_color="#0000FF", **WM)
p.segment(x0=[x2], y0=[24], x1=[x3 - 5], y1=[24], line_color="#0000FF", line_width=1.3, **L)
p.text(x=[x3], y=[15], text=["; this version posted July 13, 2023. The copyright holder for this preprint"],
       text_color="black", **WM)
p.text(x=[791 - 43], y=[36], text=["(which was not certified by peer review) is the author/funder, who has granted medRxiv a license to display the preprint in perpetuity."],
       text_color="black", text_align="center", **WM)
p.text(x=[780 - 43], y=[57], text=["All rights reserved. No reuse allowed without permission."],
       text_color="black", text_align="center", **WM)

open("out.html", "w").write(file_html(p, INLINE))
